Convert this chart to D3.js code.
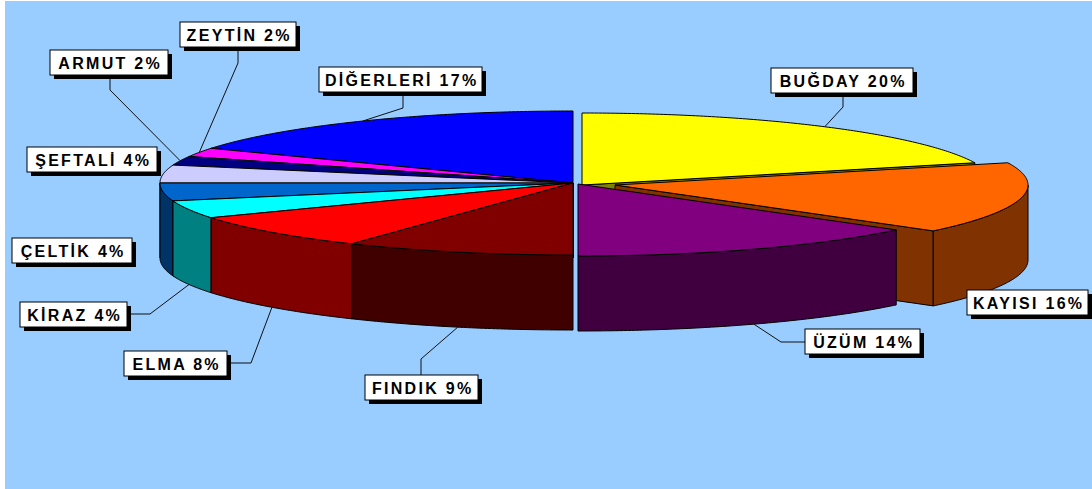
<!DOCTYPE html>
<html>
<head>
<meta charset="utf-8">
<script src="https://cdn.jsdelivr.net/npm/d3@7/dist/d3.min.js"></script>
<style>
  html, body { margin: 0; padding: 0; background: #ffffff; }
  svg { display: block; }
</style>
</head>
<body>
<script>
// ---------------- DATA ----------------
const categories = ["BUĞDAY", "KAYISI", "ÜZÜM", "FINDIK", "ELMA", "KİRAZ", "ÇELTİK", "ŞEFTALİ", "ARMUT", "ZEYTİN", "DİĞERLERİ"];
const values     = [20, 16, 14, 9, 8, 4, 4, 4, 2, 2, 17];

// ---------------- STYLE / LAYOUT ----------------
const topColors  = ["#FFFF00", "#FF6600", "#800080", "#800000", "#FF0000", "#00FFFF", "#0066CC", "#CCCCFF", "#000080", "#FF00FF", "#0000FF"];
const sideColors = ["#808000", "#803300", "#400040", "#400000", "#800000", "#008080", "#003366", "#666680", "#000040", "#800080", "#000080"];
// explosion offsets in px (per slice, by category)
const explode = { "BUĞDAY": [9, 2], "KAYISI": [42, 2], "ÜZÜM": [5, 1] };
// label boxes [x, y, w] and optional leader [startX, startY, elbowX, elbowY]
const labelLayout = {
  "BUĞDAY":    { box: [771, 68, 142],  leader: [843, 92, 843, 107] },
  "KAYISI":    { box: [967, 290, 121], leader: null },
  "ÜZÜM":      { box: [805, 329, 115], leader: [805, 342, 781, 342] },
  "FINDIK":    { box: [365, 375, 113], leader: [421, 375, 421, 359] },
  "ELMA":      { box: [124, 351, 103], leader: [227, 363, 251, 363] },
  "KİRAZ":     { box: [20, 302, 107],  leader: [127, 314, 150, 314] },
  "ÇELTİK":    { box: [12, 238, 120],  leader: null },
  "ŞEFTALİ":   { box: [27, 147, 130],  leader: null },
  "ARMUT":     { box: [50, 50, 118],   leader: [110, 75, 110, 90] },
  "ZEYTİN":    { box: [180, 22, 116],  leader: [238, 47, 238, 63] },
  "DİĞERLERİ": { box: [319, 67, 163],  leader: [403, 93, 403, 108] }
};

const W = 1092, H = 489;
const cx = 573, cy = 183, rx = 413, ry = 72, depth = 75;

const svg = d3.select("body").append("svg").attr("width", W).attr("height", H);
svg.append("rect").attr("x", 0).attr("y", 0).attr("width", W).attr("height", H).attr("fill", "#ffffff");
svg.append("rect").attr("x", 5).attr("y", 1).attr("width", W - 5).attr("height", H - 1).attr("fill", "#99CCFF");

const rows = categories.map((c, i) => ({ cat: c, v: values[i], i }));
const pie = d3.pie().sort(null).value(d => d.v).startAngle(0).endAngle(2 * Math.PI);
const arcs = pie(rows);

// radial scale (fraction of radius -> fraction)
const rScale = d3.scaleLinear().domain([0, 1]).range([0, 1]);

function P(theta, r, z, off) {
  const rr = rScale(r);
  return [cx + off[0] + rx * rr * Math.sin(theta), cy + off[1] - ry * rr * Math.cos(theta) + z];
}
function arcPts(a, b, z, off) {
  const n = Math.max(2, Math.ceil(Math.abs(b - a) / 0.01));
  const pts = [];
  for (let k = 0; k <= n; k++) pts.push(P(a + (b - a) * k / n, 1, z, off));
  return pts;
}
const line = d3.line();
const closed = pts => line(pts) + "Z";

const gPie = svg.append("g");
const order = arcs.slice().sort((A, B) => {
  const ma = (A.startAngle + A.endAngle) / 2, mb = (B.startAngle + B.endAngle) / 2;
  return (-Math.cos(ma)) - (-Math.cos(mb));
});

function face(d, fill) {
  gPie.append("path").attr("d", d).attr("fill", fill)
    .attr("stroke", "#000").attr("stroke-width", 1).attr("stroke-linejoin", "round");
}

order.forEach(a => {
  const i = a.data.i;
  const off = explode[a.data.cat] || [0, 0];
  const a0 = a.startAngle, a1 = a.endAngle;
  const side = sideColors[i], top = topColors[i];
  // radial faces
  const radial = t => closed([P(t, 0, 0, off), P(t, 1, 0, off), P(t, 1, depth, off), P(t, 0, depth, off)]);
  if (Math.sin(a0) < -1e-6) face(radial(a0), side);
  if (Math.sin(a1) > 1e-6) face(radial(a1), side);
  // outer wall on the front half
  const s = Math.max(a0, Math.PI / 2), e = Math.min(a1, 3 * Math.PI / 2);
  if (e > s + 1e-6) {
    const upper = arcPts(s, e, 0, off);
    const lower = arcPts(s, e, depth, off).reverse();
    face(closed(upper.concat(lower)), side);
  }
  // top
  const tp = [P(a0, 0, 0, off)].concat(arcPts(a0, a1, 0, off));
  face(closed(tp), top);
});

// ---------------- LABELS ----------------
const gLab = svg.append("g");
const boxH = 25, shadow = 4;
arcs.forEach(a => {
  const cat = a.data.cat;
  const L = labelLayout[cat];
  const off = explode[cat] || [0, 0];
  const mid = (a.startAngle + a.endAngle) / 2;
  if (L.leader) {
    const z = Math.cos(mid) < 0 ? depth : 0;
    const anchor = P(mid, 1, z, off);
    gLab.append("path")
      .attr("d", line([[L.leader[0], L.leader[1]], [L.leader[2], L.leader[3]], anchor]))
      .attr("fill", "none").attr("stroke", "#111").attr("stroke-width", 1);
  }
  const [bx, by, bw] = L.box;
  gLab.append("rect").attr("x", bx + shadow).attr("y", by + shadow).attr("width", bw).attr("height", boxH).attr("fill", "#000");
  gLab.append("rect").attr("x", bx).attr("y", by).attr("width", bw).attr("height", boxH)
    .attr("fill", "#fff").attr("stroke", "#000").attr("stroke-width", 1);
  gLab.append("text")
    .attr("x", bx + bw / 2 + 1.2).attr("y", by + boxH / 2 + 6)
    .attr("text-anchor", "middle")
    .attr("font-family", "'Liberation Sans', Arial, sans-serif")
    .attr("font-weight", "bold").attr("font-size", 16)
    .attr("letter-spacing", 2.3)
    .attr("fill", "#000")
    .text(`${cat} ${a.data.v}%`);
});
</script>
</body>
</html>
